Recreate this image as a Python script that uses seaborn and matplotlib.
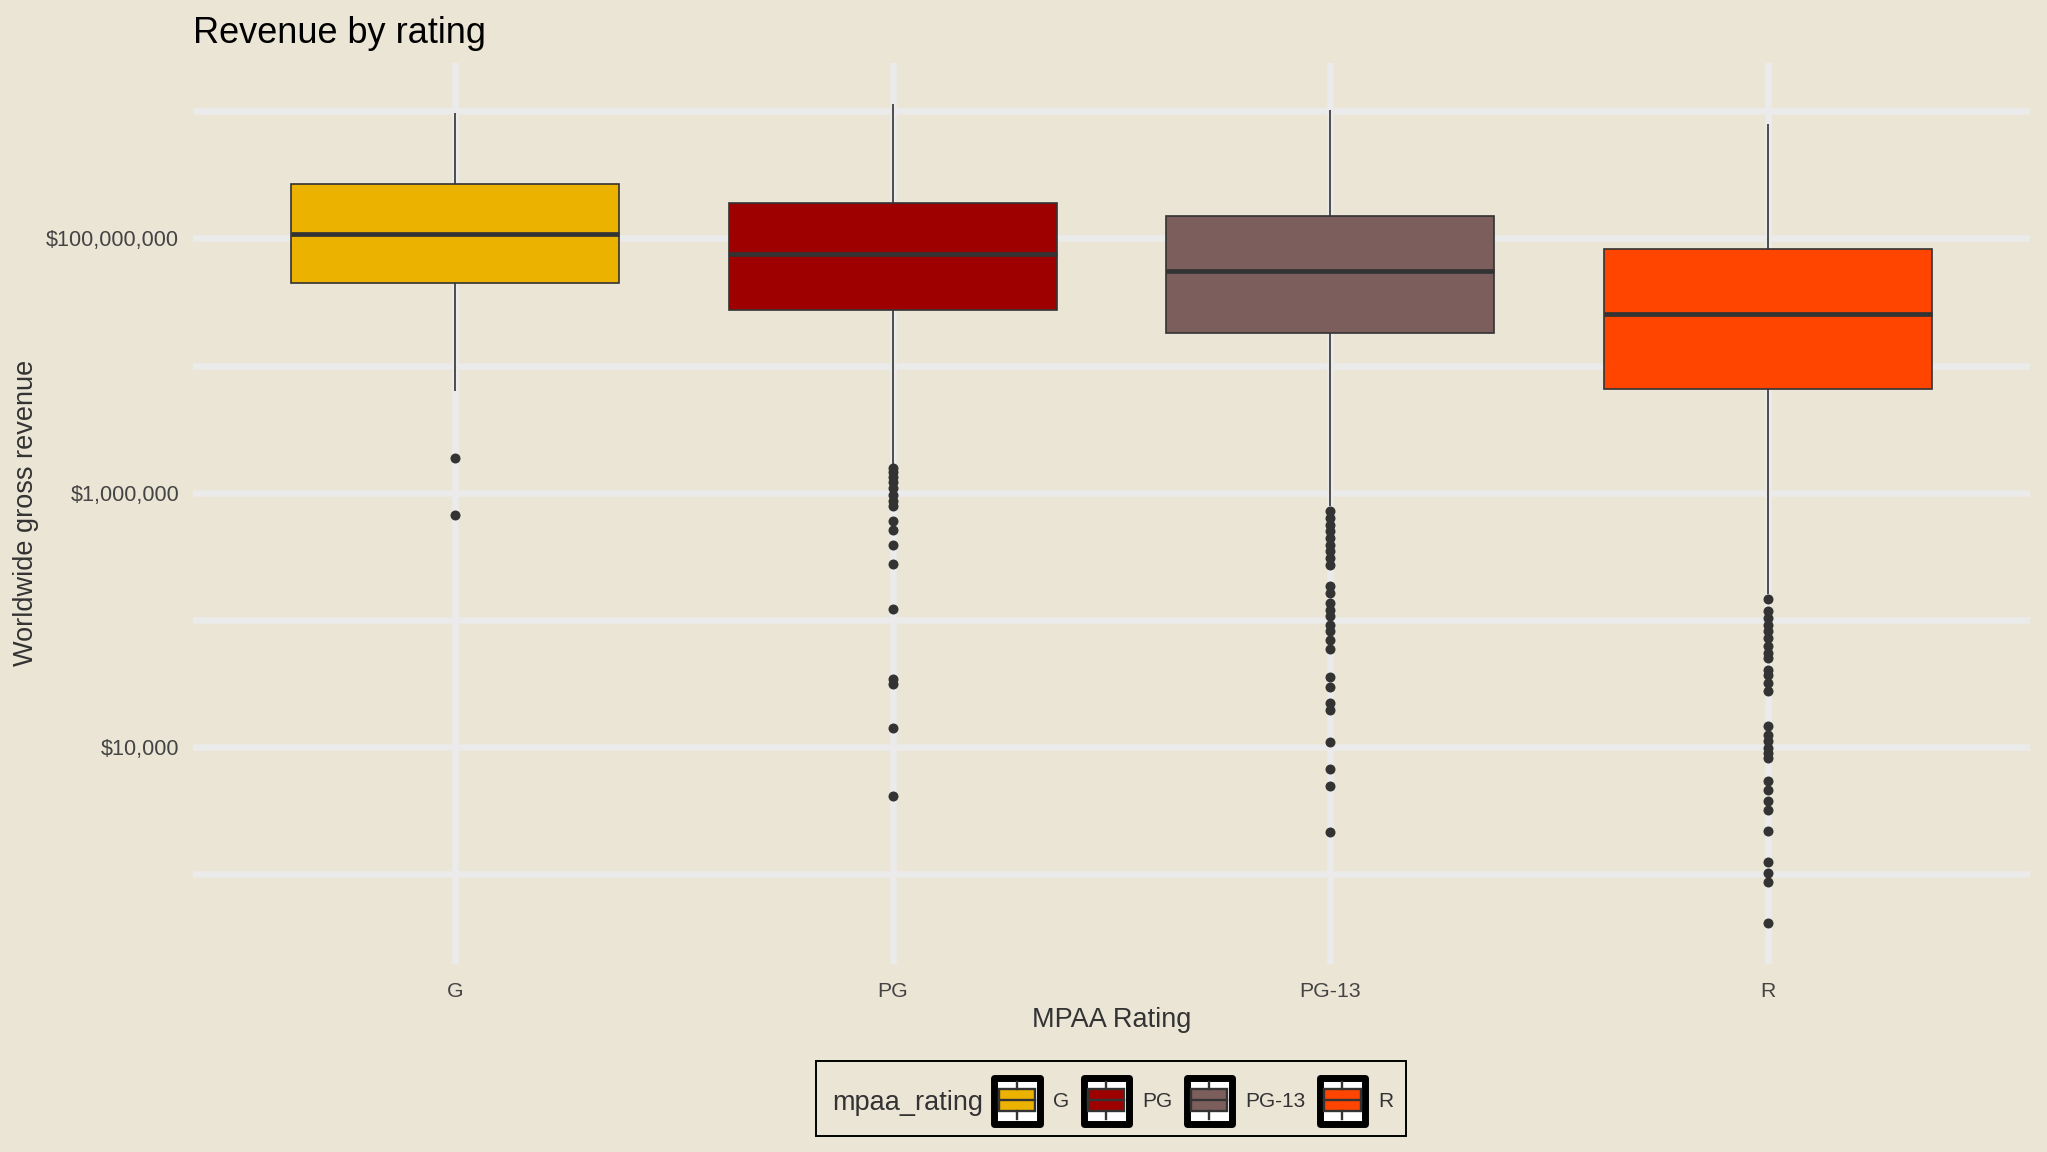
import numpy as np
import pandas as pd
import matplotlib
matplotlib.use("Agg")
import matplotlib.pyplot as plt
import matplotlib.patches as mpatches
import matplotlib.lines as mlines
from matplotlib.legend_handler import HandlerBase
from matplotlib.ticker import FixedLocator, FixedFormatter, NullFormatter
import seaborn as sns

# ---------------- data ----------------
ratings = ["G", "PG", "PG-13", "R"]
fill_colors = ["#ECB200", "#9E0000", "#7C5F5C", "#FF4500"]

# box statistics (USD): lower whisker, Q1, median, Q3, upper whisker
whisker_low = [6.27e6, 1.62e6, 7.85e5, 1.61e5]
q1 = [44.7e6, 27.4e6, 18.0e6, 6.58e6]
median = [109e6, 75.5e6, 55.5e6, 25.7e6]
q3 = [270e6, 188.8e6, 150e6, 82.0e6]
whisker_high = [977e6, 1148e6, 1030e6, 800e6]

# outliers (USD)
outliers_G = [1.875e6, 673e3]
outliers_PG = [1.570e6, 1.462e6, 1.334e6, 1.219e6, 1.094e6, 964e3, 865e3, 789e3,
               603e3, 514e3, 392e3, 277e3, 121e3, 34.2e3, 31.2e3, 14.2e3, 4.15e3]
outliers_PG13 = [719e3, 634e3, 558e3, 501e3, 442e3, 389e3, 349e3, 307e3, 271e3,
                 185e3, 163e3, 136e3, 120e3, 108e3, 91.4e3, 82.0e3, 69.7e3, 59.0e3,
                 35.6e3, 29.7e3, 22.2e3, 19.6e3, 11.0e3, 6.73e3, 4.95e3, 2.15e3]
outliers_R = [147e3, 118e3, 104e3, 91.4e3, 82.0e3, 72.3e3, 62.5e3, 55.1e3, 50.2e3,
              40.5e3, 37.0e3, 32.0e3, 27.7e3, 14.7e3, 12.5e3, 11.2e3, 9.89e3, 9.04e3,
              8.24e3, 5.45e3, 4.62e3, 3.79e3, 3.22e3, 2.20e3, 1.24e3, 1.03e3, 877, 418]

y_major_ticks = [1e4, 1e6, 1e8]
y_tick_labels = ["$10,000", "$1,000,000", "$100,000,000"]
y_minor_ticks = [1e3, 1e5, 1e7, 1e9]

title_text = "Revenue by rating"
x_title = "MPAA Rating"
y_title = "Worldwide gross revenue"
legend_title = "mpaa_rating"

# ---------------- tables ----------------
box_rows = []
for i, r in enumerate(ratings):
    for v in (whisker_low[i], q1[i], median[i], q3[i], whisker_high[i]):
        box_rows.append({"mpaa_rating": r, "revenue": v})
box_df = pd.DataFrame(box_rows)

out_rows = []
for r, vals in zip(ratings, [outliers_G, outliers_PG, outliers_PG13, outliers_R]):
    for v in vals:
        out_rows.append({"mpaa_rating": r, "revenue": v})
out_df = pd.DataFrame(out_rows)

# ---------------- style ----------------
BG = "#EBE5D6"
GRID = "#EBEBEB"
DARK = "#333333"
plt.rcParams["font.family"] = ["Liberation Sans", "DejaVu Sans"]

W, H = 2047, 1152
fig = plt.figure(figsize=(W / 100, H / 100), dpi=100, facecolor=BG)
pl, pr, pt, pb = 193, 2030, 62.7, 963.5
ax = fig.add_axes([pl / W, 1 - pb / H, (pr - pl) / W, (pb - pt) / H])
ax.set_facecolor(BG)

palette = dict(zip(ratings, fill_colors))
sns.boxplot(data=box_df, x="mpaa_rating", y="revenue", hue="mpaa_rating",
            order=ratings, hue_order=ratings, palette=palette, saturation=1,
            width=0.75, whis=(0, 100), showfliers=False, showcaps=False,
            linecolor=DARK, linewidth=1.2, dodge=False,
            medianprops={"linewidth": 3.4, "color": DARK},
            log_scale=True, legend=False, ax=ax)
sns.stripplot(data=out_df, x="mpaa_rating", y="revenue", order=ratings,
              jitter=False, color=DARK, size=7.2, linewidth=0,
              log_scale=True, ax=ax, zorder=3)

all_vals = np.concatenate([box_df["revenue"].values, out_df["revenue"].values])
lo, hi = np.log10(all_vals.min()), np.log10(all_vals.max())
rng = hi - lo
ax.set_ylim(10 ** (lo - 0.05 * rng), 10 ** (hi + 0.05 * rng))
ax.set_xlim(-0.6, len(ratings) - 0.4)

ax.yaxis.set_major_locator(FixedLocator(y_major_ticks))
ax.yaxis.set_major_formatter(FixedFormatter(y_tick_labels))
ax.yaxis.set_minor_locator(FixedLocator(y_minor_ticks))
ax.yaxis.set_minor_formatter(NullFormatter())

ax.set_axisbelow(True)
ax.grid(which="both", axis="y", color=GRID, linewidth=4.7)
ax.grid(which="major", axis="x", color=GRID, linewidth=4.7)
for s in ax.spines.values():
    s.set_visible(False)
ax.tick_params(which="both", length=0)
ax.tick_params(axis="y", pad=10, labelsize=15.6, labelcolor="#444444")
ax.tick_params(axis="x", pad=13, labelsize=15.3, labelcolor="#444444")

ax.set_xlabel(x_title, fontsize=19.5, color=DARK, va="baseline")
ax.xaxis.set_label_coords(0.5, (pb - 1026.7) / (pb - pt))
ax.set_ylabel(y_title, fontsize=19.5, color=DARK, va="center", ha="center")
ax.yaxis.set_label_coords((26 - pl) / (pr - pl), 0.5)

fig.text(pl / W, 1 - 42.7 / H, title_text, fontsize=26, color="black",
         ha="left", va="baseline")

# ---------------- legend ----------------
class BoxKeyHandler(HandlerBase):
    def create_artists(self, legend, orig_handle, xdescent, ydescent,
                       width, height, fontsize, trans):
        x0, y0 = -xdescent, -ydescent
        fc = orig_handle.get_facecolor()
        bw = 5.0
        outer = mpatches.Rectangle((x0 + bw / 2, y0 + bw / 2), width - bw, height - bw,
                                   facecolor="white", edgecolor="black", linewidth=bw,
                                   joinstyle="round", transform=trans)
        box = mpatches.Rectangle((x0 + 0.15 * width, y0 + 0.30 * height),
                                 0.70 * width, 0.43 * height,
                                 facecolor=fc, edgecolor=DARK, linewidth=1.7,
                                 transform=trans)
        xc = x0 + 0.5 * width
        med = mlines.Line2D([x0 + 0.15 * width, x0 + 0.85 * width],
                            [y0 + 0.515 * height] * 2, color=DARK, linewidth=1.7,
                            transform=trans)
        wt = mlines.Line2D([xc, xc], [y0 + 0.73 * height, y0 + 0.87 * height],
                           color=DARK, linewidth=1.7, transform=trans)
        wb = mlines.Line2D([xc, xc], [y0 + 0.16 * height, y0 + 0.30 * height],
                           color=DARK, linewidth=1.7, transform=trans)
        return [outer, box, med, wt, wb]

handles = [mpatches.Patch(facecolor=c, label=r) for r, c in zip(ratings, fill_colors)]
leg = fig.legend(handles=handles, labels=ratings, ncol=len(ratings), frameon=False,
                 loc="center left", bbox_to_anchor=(991 / W, 1 - 1101 / H),
                 borderpad=0, borderaxespad=0, handlelength=2.5, handleheight=3.46,
                 handletextpad=0.5, columnspacing=0.5, fontsize=15,
                 labelcolor=DARK, handler_map={mpatches.Patch: BoxKeyHandler()})
fig.text(832 / W, 1 - 1110 / H, legend_title, fontsize=19.5, color=DARK,
         ha="left", va="baseline")
fig.patches.append(mpatches.Rectangle((816 / W, 1 - 1136 / H), 590 / W, 75 / H,
                                      transform=fig.transFigure, fill=False,
                                      edgecolor="black", linewidth=1.4))

fig.savefig("out.png", dpi=100, facecolor=BG)
